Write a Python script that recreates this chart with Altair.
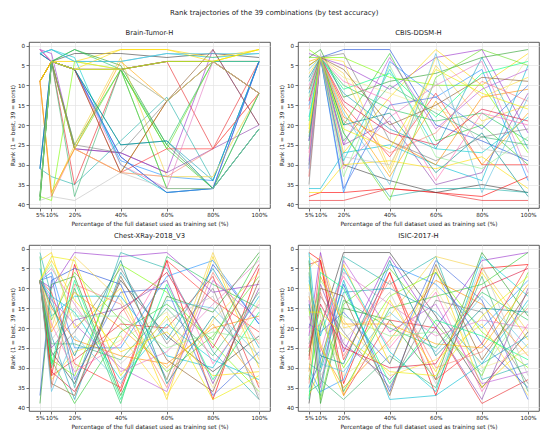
import altair as alt
import pandas as pd

pcts = [5, 10, 20, 40, 60, 80, 100]
combos = [f"C{i}" for i in range(1, 40)]
x_tick_values = [5, 10, 20, 40, 60, 80, 100]
y_tick_values = [0, 5, 10, 15, 20, 25, 30, 35, 40]

palette = [
    "#ff0000", "#e8262a", "#404040", "#1f4fd8", "#9932cc", "#20b2aa", "#ffd700",
    "#2ca02c", "#32cd32", "#1e90ff", "#00bcd4", "#f5d142", "#7cfc00", "#8e44ad",
    "#ff3030", "#ff8c00", "#22c55e", "#ffe135", "#17a2b8", "#00ced1", "#66dd22",
    "#7f7f7f", "#f0e68c", "#e377c2", "#fa8072", "#3cb371", "#4169e1", "#ffa500",
    "#ba55d3", "#dc143c", "#ffdd00", "#00ff7f", "#008b8b", "#ff69b4", "#c0c0c0",
    "#8b5a2b", "#5bc0de", "#90ee90", "#eeee00",
]

brain = [
    [9, 4, 6, 6, 4, 4, 4], [9, 4, 35, 6, 4, 26, 4], [2, 4, 2, 2, 3, 2, 3],
    [2, 4, 6, 28, 37, 36, 4], [1, 2, 26, 27, 32, 1, 20], [31, 33, 35, 24, 13, 34, 4],
    [9, 4, 4, 1, 1, 3, 1], [38, 4, 1, 5, 25, 36, 21], [39, 4, 25, 6, 26, 36, 12],
    [31, 4, 6, 29, 33, 34, 4], [2, 1, 4, 4, 2, 3, 2], [9, 38, 25, 3, 33, 33, 12],
    [38, 39, 4, 6, 36, 36, 21], [1, 4, 26, 27, 32, 26, 20], [9, 4, 6, 32, 26, 26, 12],
    [9, 4, 26, 32, 14, 4, 12], [9, 4, 1, 6, 25, 4, 12], [9, 4, 4, 6, 4, 4, 1],
    [2, 4, 6, 25, 24, 34, 4], [2, 1, 3, 30, 37, 36, 21], [39, 4, 26, 6, 26, 4, 4],
    [38, 4, 25, 27, 14, 4, 4], [9, 37, 26, 32, 33, 33, 12], [1, 4, 6, 30, 36, 4, 4],
    [9, 38, 26, 32, 33, 26, 12], [39, 4, 38, 6, 36, 36, 12], [31, 4, 6, 28, 37, 36, 4],
    [9, 37, 26, 4, 14, 4, 12], [1, 4, 6, 6, 4, 4, 4], [9, 4, 6, 6, 4, 4, 12],
    [9, 4, 6, 1, 1, 4, 1], [38, 4, 6, 6, 4, 4, 4], [31, 4, 6, 25, 24, 36, 21],
    [1, 4, 6, 6, 14, 4, 12], [39, 38, 39, 32, 36, 36, 21], [38, 4, 6, 32, 14, 1, 20],
    [2, 1, 4, 4, 2, 2, 2], [38, 4, 6, 6, 14, 4, 12], [9, 4, 6, 6, 4, 4, 1],
]

cbis = [
    [38, 37, 37, 36, 37, 38, 33], [39, 39, 39, 36, 37, 39, 39], [30, 3, 30, 34, 37, 35, 37],
    [24, 3, 1, 1, 20, 24, 29], [2, 3, 5, 11, 3, 1, 22], [9, 3, 22, 38, 36, 36, 37],
    [22, 3, 27, 13, 1, 10, 2], [3, 1, 13, 9, 7, 3, 1], [5, 3, 20, 2, 24, 20, 30],
    [15, 3, 37, 4, 13, 6, 34], [36, 36, 27, 25, 30, 34, 5], [20, 3, 7, 32, 5, 19, 15],
    [1, 3, 3, 8, 10, 10, 27], [24, 3, 25, 19, 35, 32, 12], [33, 3, 15, 28, 12, 30, 30],
    [5, 3, 18, 24, 30, 13, 11], [26, 3, 10, 16, 19, 17, 24], [7, 3, 4, 31, 3, 13, 8],
    [12, 3, 12, 21, 26, 3, 26], [18, 3, 29, 6, 26, 27, 18], [3, 3, 22, 39, 8, 1, 5],
    [35, 3, 2, 24, 29, 23, 21], [28, 3, 8, 12, 16, 20, 3], [10, 3, 31, 18, 10, 4, 32],
    [16, 3, 19, 27, 22, 9, 14], [23, 3, 24, 10, 17, 23, 25], [31, 3, 36, 15, 13, 21, 10],
    [4, 3, 16, 33, 14, 30, 17], [29, 3, 25, 3, 21, 11, 6], [14, 3, 14, 22, 25, 16, 19],
    [37, 37, 30, 29, 31, 28, 36], [19, 3, 11, 7, 18, 7, 4], [8, 3, 20, 17, 32, 22, 38],
    [27, 3, 9, 14, 34, 17, 20], [32, 2, 28, 30, 9, 26, 28], [11, 3, 6, 20, 15, 8, 9],
    [6, 3, 17, 35, 2, 37, 13], [13, 3, 33, 5, 28, 31, 23], [21, 3, 21, 26, 6, 12, 16],
]

chest = [
    [8, 32, 4, 36, 3, 38, 5], [8, 32, 28, 19, 20, 7, 35], [8, 26, 34, 8, 22, 31, 22],
    [37, 8, 5, 9, 33, 4, 19], [8, 10, 1, 2, 1, 11, 9], [1, 12, 35, 1, 5, 26, 38],
    [3, 1, 20, 10, 38, 2, 30], [39, 9, 7, 37, 12, 16, 1], [8, 28, 39, 21, 14, 23, 2],
    [8, 6, 25, 25, 7, 3, 19], [5, 17, 12, 12, 27, 30, 12], [8, 20, 2, 13, 33, 1, 28],
    [8, 28, 32, 4, 11, 24, 36], [8, 25, 18, 15, 8, 34, 10], [8, 11, 29, 35, 3, 13, 21],
    [8, 15, 23, 27, 29, 20, 17], [2, 30, 10, 39, 2, 9, 15], [8, 33, 26, 22, 37, 18, 6],
    [8, 22, 38, 6, 23, 5, 25], [8, 12, 16, 33, 19, 28, 33], [8, 18, 6, 18, 31, 22, 7],
    [8, 27, 21, 5, 24, 10, 38], [8, 16, 30, 23, 16, 35, 13], [8, 5, 14, 31, 26, 14, 3],
    [8, 35, 9, 14, 35, 6, 24], [8, 24, 24, 28, 15, 27, 11], [8, 7, 33, 11, 10, 37, 26],
    [8, 21, 11, 20, 30, 19, 34], [8, 13, 19, 30, 36, 8, 18], [8, 31, 36, 16, 6, 25, 4],
    [8, 3, 13, 26, 21, 32, 31], [8, 29, 8, 38, 9, 33, 16], [8, 14, 27, 3, 34, 17, 29],
    [8, 19, 31, 24, 4, 29, 14], [8, 23, 15, 29, 18, 12, 37], [8, 34, 37, 7, 28, 36, 8],
    [8, 36, 22, 34, 13, 15, 27], [8, 4, 17, 17, 25, 21, 23], [8, 2, 3, 32, 17, 38, 32],
]

isic = [
    [1, 3, 34, 6, 37, 5, 4], [4, 3, 37, 18, 20, 39, 33], [39, 20, 1, 1, 17, 35, 21],
    [35, 28, 9, 36, 6, 24, 35], [22, 1, 26, 2, 20, 3, 1], [32, 37, 2, 9, 2, 33, 29],
    [37, 30, 4, 29, 5, 35, 24], [3, 39, 15, 18, 33, 1, 17], [26, 15, 36, 15, 12, 9, 1],
    [30, 36, 33, 4, 9, 20, 8], [1, 30, 8, 38, 37, 29, 13], [5, 2, 20, 17, 2, 5, 21],
    [33, 18, 30, 12, 6, 21, 30], [20, 9, 24, 33, 20, 38, 10], [28, 3, 28, 6, 33, 24, 4],
    [12, 25, 35, 23, 8, 14, 27], [36, 34, 13, 20, 25, 11, 18], [2, 5, 18, 32, 28, 19, 37],
    [29, 31, 11, 10, 16, 29, 22], [8, 22, 5, 26, 36, 2, 12], [15, 38, 14, 5, 19, 32, 6],
    [24, 12, 21, 35, 13, 16, 34], [10, 17, 32, 24, 10, 30, 26], [17, 26, 6, 14, 22, 18, 20],
    [34, 11, 27, 8, 30, 26, 15], [6, 33, 38, 27, 35, 7, 36], [19, 21, 16, 29, 3, 13, 38],
    [31, 7, 19, 19, 24, 25, 9], [13, 35, 3, 21, 14, 34, 31], [25, 14, 25, 30, 29, 10, 5],
    [9, 24, 37, 13, 31, 6, 23], [38, 6, 10, 34, 18, 22, 28], [14, 27, 29, 3, 27, 15, 16],
    [21, 19, 7, 25, 11, 36, 19], [11, 32, 23, 11, 34, 4, 32], [27, 10, 12, 37, 4, 28, 11],
    [7, 29, 31, 16, 26, 12, 25], [23, 8, 17, 22, 21, 31, 14], [16, 16, 22, 31, 32, 17, 7],
]

W, H = 241, 166
FONT = "DejaVu Sans"


def panel(name, ranks):
    rows = []
    for combo, series in zip(combos, ranks):
        for p, r in zip(pcts, series):
            rows.append({"combo": combo, "pct": p, "rank": r})
    df = pd.DataFrame(rows)
    return (
        alt.Chart(df)
        .mark_line(strokeWidth=1.0, opacity=0.62)
        .encode(
            x=alt.X(
                "pct:Q",
                scale=alt.Scale(domain=[0.25, 104.75], nice=False, zero=False),
                axis=alt.Axis(
                    values=x_tick_values,
                    labelExpr="datum.value + '%'",
                    title="Percentage of the full dataset used as training set (%)",
                    labelOverlap=False,
                    labelFlush=False,
                ),
            ),
            y=alt.Y(
                "rank:Q",
                scale=alt.Scale(domain=[-0.9, 40.9], reverse=True, nice=False, zero=False),
                axis=alt.Axis(
                    values=y_tick_values,
                    title="Rank (1 = best, 39 = worst)",
                    labelOverlap=False,
                ),
            ),
            color=alt.Color(
                "combo:N",
                scale=alt.Scale(domain=combos, range=palette),
                legend=None,
            ),
        )
        .properties(
            width=W,
            height=H,
            title=alt.TitleParams(name, fontSize=6.8, offset=5),
        )
    )


p1 = panel("Brain-Tumor-H", brain)
p2 = panel("CBIS-DDSM-H", cbis)
p3 = panel("Chest-XRay-2018_V3", chest)
p4 = panel("ISIC-2017-H", isic)

chart = (
    alt.vconcat(
        alt.hconcat(p1, p2, spacing=6),
        alt.hconcat(p3, p4, spacing=6),
        spacing=5,
    )
    .properties(
        title=alt.TitleParams(
            "Rank trajectories of the 39 combinations (by test accuracy)",
            fontSize=7,
            offset=14,
            anchor="middle",
        ),
        padding=0,
    )
    .configure_title(font=FONT, fontWeight="normal", color="#222222")
    .configure_axis(
        labelFont=FONT,
        titleFont=FONT,
        labelFontSize=5.6,
        titleFontSize=5.8,
        titleFontWeight="normal",
        labelColor="#222222",
        titleColor="#222222",
        tickSize=3,
        tickColor="#333333",
        tickWidth=0.7,
        domain=False,
        grid=True,
        gridColor="#e4e4e4",
        gridWidth=0.7,
        labelPadding=1.5,
        titlePadding=2,
    )
    .configure_view(stroke="#333333", strokeWidth=0.8)
)

chart.save("out.html", embed_options={"renderer": "svg", "actions": False})
